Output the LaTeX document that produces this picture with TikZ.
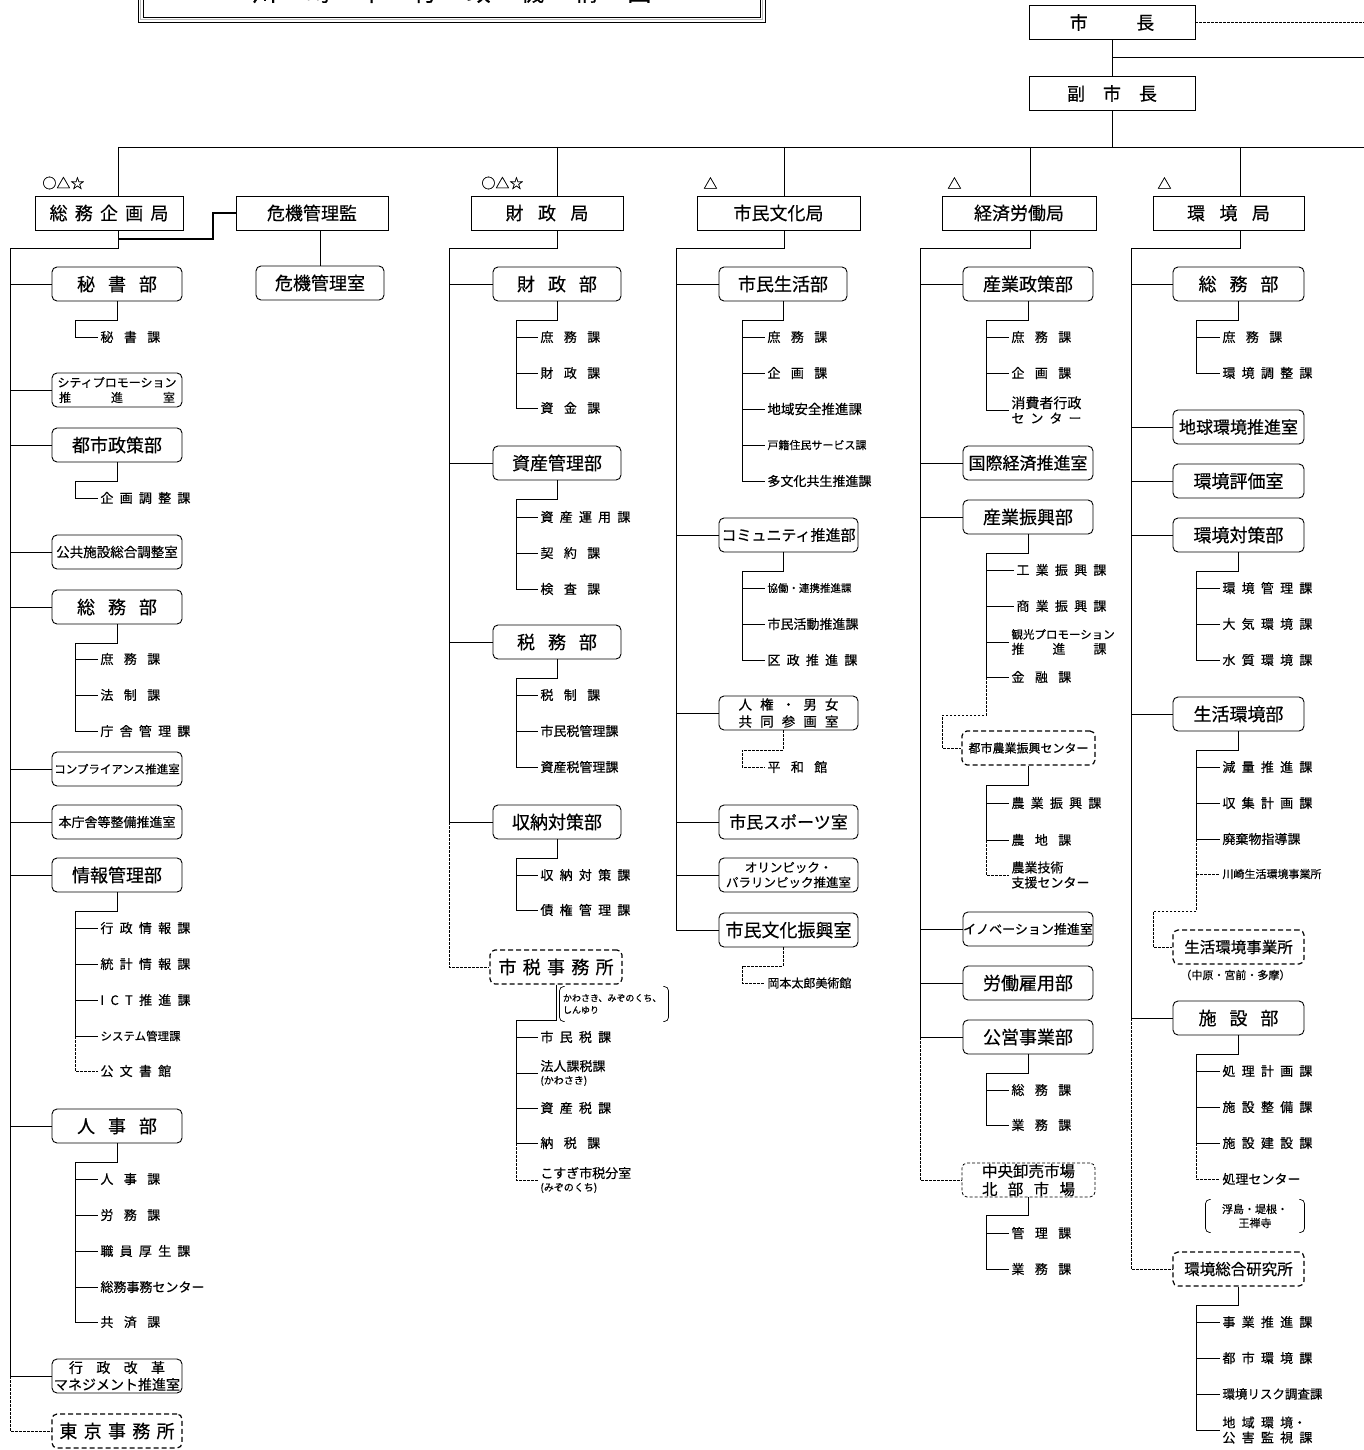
\documentclass[tikz,border=0pt]{standalone}
\usepackage{fontspec}
\setmainfont{Noto Sans CJK JP}[FakeBold=0.4]
\usetikzlibrary{positioning,calc}
\newcommand{\fsz}[2]{\fontsize{#1}{#2}\selectfont}
\newcommand{\wsp}{\spaceskip=.8em\relax}

\begin{document}
\begin{tikzpicture}[
  x=1pt, y=-1pt, line width=.9pt,
  kyoku/.style={draw, minimum height=34pt, inner sep=0pt, font={\fsz{18}{20}\spaceskip=.4em\relax}},
  bu/.style={draw, rounded corners=5pt, minimum width=130pt, minimum height=34pt, inner sep=0pt, align=center, font={\fsz{18}{20}\spaceskip=.72em\relax}},
  dbu/.style={bu, dash pattern=on 5pt off 3pt, line width=1.2pt},
  ka/.style={anchor=west, inner sep=0pt, align=left, font={\fsz{13}{15}\spaceskip=.48em\relax}},
  kigo/.style={anchor=west, inner sep=0pt, font=\fsz{14}{14}},
  memo/.style={inner xsep=3pt, inner ysep=0pt, minimum height=34pt, align=left, font=\fsz{9}{12}},
  con/.style={shorten >=2pt},
  dl/.style={dash pattern=on 2.5pt off 1.5pt, line width=.8pt},
  heavy/.style={line width=2.2pt},
  brk/.style={rounded corners=4pt, line width=.7pt}
]
\useasboundingbox (0,0) rectangle (1364,1450);

% title frame (cut at the top)
\draw (138,-5) -- (138,22) -- (765,22) -- (765,-5);
\draw[gray!55, line width=1.6pt] (140.5,-5) -- (140.5,19.5) -- (762.5,19.5) -- (762.5,-5);
\draw[line width=.7pt] (143,-5) -- (143,17) -- (760,17) -- (760,-5);
\node[anchor=base, inner sep=0pt, font={\fsz{24}{24}\spaceskip=1.23em\relax}] (ttl) at (452,1) {川 崎 市 行 政 機 構 図};

% mayor and bus
\node[kyoku, minimum width=166pt] (shicho) at (1112,22.5) {市\hspace{2.7em}長};
\node[kyoku, minimum width=166pt] (fuku) at (1112,93.5) {\spaceskip=1em 副 市 長};
\coordinate (rA) at (1364,22.5);
\coordinate (rB) at (1364,57);
\coordinate (busL) at (118,147);
\coordinate (busR) at (1364,147);
\draw[dl] (shicho.east) -- (rA);
\draw (shicho) -- (fuku);
\draw (rB -| shicho.south) -- (rB);
\draw (fuku.south) -- (fuku.south |- busR);
\draw (busL) -- (busR);

% bureaus
\node[kyoku, minimum width=148pt] (somu) at (109,213) {総 務 企 画 局};
\node[kyoku, minimum width=152pt] (kiki) at (312,213) {危機管理監};
\node[kyoku, minimum width=152pt] (zaisei) at (547,213) {\wsp 財 政 局};
\node[kyoku, minimum width=163pt] (shimin) at (778.5,213) {市民文化局};
\node[kyoku, minimum width=154pt] (keizai) at (1019,213) {経済労働局};
\node[kyoku, minimum width=151pt] (kankyo) at (1228.5,213) {\wsp 環 境 局};
\node[kigo] (k1) at (42,183) {○△☆};
\node[kigo] (k2) at (481,183) {○△☆};
\node[kigo] (k3) at (703,183) {△};
\node[kigo] (k4) at (947,183) {△};
\node[kigo] (k5) at (1157,183) {△};

\coordinate (s1) at (10,248);
\coordinate (s2) at (449,248);
\coordinate (s3) at (676,248);
\coordinate (s4) at (920,248);
\coordinate (s5) at (1131,248);
\foreach \b/\x/\s in {somu/118/s1, zaisei/557/s2, shimin/784/s3, keizai/1030/s4, kankyo/1240/s5}{
  \coordinate (p) at (\x,147);
  \draw (p) -- (p |- \b.north);
  \draw (p |- \b.south) |- (\s);
}

\node[bu, minimum width=128pt] (kikishitsu) at (320,283) {危機管理室};
\draw (kiki.south -| kikishitsu.north) -- (kikishitsu.north);
\coordinate (hv) at (213,239);
\draw[heavy] (hv -| busL) -- (hv) |- (kiki.west);

% ---- 総務企画局
\node[bu] (a1) at (117,284) {秘 書 部};
\node[bu, font=\fsz{12}{15}] (a2) at (117,390) {シティプロモーション\\\makebox[116pt][s]{推\hfill 進\hfill 室}};
\node[bu] (a3) at (117,445) {都市政策部};
\node[bu, font=\fsz{13.5}{15}] (a4) at (117,552) {公共施設総合調整室};
\node[bu] (a5) at (117,607) {総 務 部};
\node[bu, font=\fsz{11.5}{14}] (a6) at (117,769) {コンプライアンス推進室};
\node[bu, font=\fsz{13}{15}] (a7) at (117,822) {本庁舎等整備推進室};
\node[bu] (a8) at (117,875) {情報管理部};
\node[bu] (a9) at (117,1126) {人 事 部};
\node[bu, font=\fsz{14}{17}] (a10) at (117,1376) {\makebox[96pt][s]{行\hfill 政\hfill 改\hfill 革}\\マネジメント推進室};
\node[dbu, font={\fsz{18}{20}\spaceskip=.35em\relax}] (a11) at (117,1431) {東 京 事 務 所};
\draw (s1) -- (s1 |- a10.west);
\foreach \n in {a1,a2,a3,a4,a5,a6,a7,a8,a9,a10} \draw (s1 |- \n.west) -- (\n.west);
\draw[dl] (s1 |- a10.west) |- (a11.west);

\coordinate (a1s) at (75,320);
\node[ka] (a1-1) at (100,337) {\wsp 秘 書 課};
\draw[con] (a1.south) |- (a1s) |- (a1-1.west);

\coordinate (a3s) at (75,481);
\node[ka] (a3-1) at (100,498) {企 画 調 整 課};
\draw[con] (a3.south) |- (a3s) |- (a3-1.west);

\coordinate (a5s) at (75,643);
\foreach \i/\y/\tx in {1/659/\wsp 庶 務 課, 2/695/\wsp 法 制 課, 3/731/庁 舎 管 理 課}
  \node[ka] (a5-\i) at (100,\y) {\tx};
\draw (a5.south) |- (a5s) -- (a5s |- a5-3.west);
\foreach \i in {1,2,3} \draw[con] (a5s |- a5-\i.west) -- (a5-\i.west);

\coordinate (a8s) at (75,911);
\foreach \i/\y/\tx in {1/928/行 政 情 報 課, 2/964/統 計 情 報 課, 3/1000/I C T 推 進 課, 4/1036/\fsz{11.5}{14}システム管理課, 5/1071/公 文 書 館}
  \node[ka] (a8-\i) at (100,\y) {\tx};
\draw (a8.south) |- (a8s) -- (a8s |- a8-4.west);
\foreach \i in {1,2,3,4} \draw[con] (a8s |- a8-\i.west) -- (a8-\i.west);
\draw[dl, con] (a8s |- a8-4.west) |- (a8-5.west);

\coordinate (a9s) at (75,1162);
\foreach \i/\y/\tx in {1/1179/\wsp 人 事 課, 2/1215/\wsp 労 務 課, 3/1251/職 員 厚 生 課, 4/1287/総務事務センター, 5/1322/\wsp 共 済 課}
  \node[ka] (a9-\i) at (100,\y) {\tx};
\draw (a9.south) |- (a9s) -- (a9s |- a9-5.west);
\foreach \i in {1,...,5} \draw[con] (a9s |- a9-\i.west) -- (a9-\i.west);

% ---- 財政局
\node[bu, minimum width=128pt] (b1) at (557,284) {財 政 部};
\node[bu, minimum width=128pt] (b2) at (557,463) {資産管理部};
\node[bu, minimum width=128pt] (b3) at (557,642) {税 務 部};
\node[bu, minimum width=128pt] (b4) at (557,822) {収納対策部};
\node[dbu, minimum width=132pt, font={\fsz{18}{20}\spaceskip=.35em\relax}] (b5) at (556,967) {市 税 事 務 所};
\draw (s2) -- (s2 |- b4.west);
\foreach \n in {b1,b2,b3,b4} \draw (s2 |- \n.west) -- (\n.west);
\draw[dl] (s2 |- b4.west) |- (b5.west);

\coordinate (b1s) at (516,320);
\foreach \i/\y/\tx in {1/337/\wsp 庶 務 課, 2/373/\wsp 財 政 課, 3/408/\wsp 資 金 課}
  \node[ka] (b1-\i) at (540,\y) {\tx};
\draw (b1.south) |- (b1s) -- (b1s |- b1-3.west);
\foreach \i in {1,2,3} \draw[con] (b1s |- b1-\i.west) -- (b1-\i.west);

\coordinate (b2s) at (516,499);
\foreach \i/\y/\tx in {1/517/資 産 運 用 課, 2/553/\wsp 契 約 課, 3/589/\wsp 検 査 課}
  \node[ka] (b2-\i) at (540,\y) {\tx};
\draw (b2.south) |- (b2s) -- (b2s |- b2-3.west);
\foreach \i in {1,2,3} \draw[con] (b2s |- b2-\i.west) -- (b2-\i.west);

\coordinate (b3s) at (516,678);
\foreach \i/\y/\tx in {1/695/\wsp 税 制 課, 2/731/市民税管理課, 3/767/資産税管理課}
  \node[ka] (b3-\i) at (540,\y) {\tx};
\draw (b3.south) |- (b3s) -- (b3s |- b3-3.west);
\foreach \i in {1,2,3} \draw[con] (b3s |- b3-\i.west) -- (b3-\i.west);

\coordinate (b4s) at (516,858);
\foreach \i/\y/\tx in {1/875/収 納 対 策 課, 2/910/債 権 管 理 課}
  \node[ka] (b4-\i) at (540,\y) {\tx};
\draw (b4.south) |- (b4s) -- (b4s |- b4-2.west);
\foreach \i in {1,2} \draw[con] (b4s |- b4-\i.west) -- (b4-\i.west);

\node[memo, text width=102pt] (b5n) at (614,1004) {かわさき、みぞのくち、\\しんゆり};
\draw[brk] ([xshift=5pt]b5n.north west) -- (b5n.north west) -- (b5n.south west) -- ([xshift=5pt]b5n.south west);
\draw[brk] ([xshift=-5pt]b5n.north east) -- (b5n.north east) -- (b5n.south east) -- ([xshift=-5pt]b5n.south east);
\coordinate (b5s) at (516,1020);
\foreach \i/\y/\tx in {1/1037/市 民 税 課, 2/1073/法人課税課\\[-2pt]{\fsz{10}{12}(かわさき)}, 3/1108/資 産 税 課, 4/1143/\wsp 納 税 課, 5/1180/こすぎ市税分室\\[-2pt]{\fsz{10}{12}(みぞのくち)}}
  \node[ka] (b5-\i) at (540,\y) {\tx};
\draw (b5.south) |- (b5s) -- (b5s |- b5-4.west);
\foreach \i in {1,...,4} \draw[con] (b5s |- b5-\i.west) -- (b5-\i.west);
\draw[dl, con] (b5s |- b5-4.west) |- (b5-5.west);

% ---- 市民文化局
\node[bu, minimum width=128pt] (c1) at (783,284) {市民生活部};
\node[bu, minimum width=139pt, font=\fsz{15}{17}] (c2) at (788.5,535) {コミュニティ推進部};
\node[bu, minimum width=139pt, font={\fsz{13.5}{17}\spaceskip=.6em\relax}] (c3) at (788.5,713) {人 権 ・ 男 女\\共 同 参 画 室};
\node[bu, minimum width=139pt, font=\fsz{17}{20}] (c4) at (788.5,822) {市民スポーツ室};
\node[bu, minimum width=139pt, font=\fsz{12.5}{15}] (c5) at (788.5,875) {オリンピック・\\パラリンピック推進室};
\node[bu, minimum width=139pt] (c6) at (788.5,930) {市民文化振興室};
\draw (s3) -- (s3 |- c6.west);
\foreach \n in {c1,c2,c3,c4,c5,c6} \draw (s3 |- \n.west) -- (\n.west);

\coordinate (c1s) at (742,320);
\foreach \i/\y/\tx in {1/337/\wsp 庶 務 課, 2/373/\wsp 企 画 課, 3/409/\fsz{13.5}{15}地域安全推進課, 4/445/\fsz{11}{13}戸籍住民サービス課, 5/481/多文化共生推進課}
  \node[ka] (c1-\i) at (767,\y) {\tx};
\draw (c1.south) |- (c1s) -- (c1s |- c1-5.west);
\foreach \i in {1,...,5} \draw[con] (c1s |- c1-\i.west) -- (c1-\i.west);

\coordinate (c2s) at (742,571);
\foreach \i/\y/\tx in {1/588/\fsz{10.5}{12}協働・連携推進課, 2/624/市民活動推進課, 3/660/区 政 推 進 課}
  \node[ka] (c2-\i) at (767,\y) {\tx};
\draw (c2.south -| c1.south) |- (c2s) -- (c2s |- c2-3.west);
\foreach \i in {1,2,3} \draw[con] (c2s |- c2-\i.west) -- (c2-\i.west);

\coordinate (c3s) at (742,750);
\node[ka] (c3-1) at (767,767) {\wsp 平 和 館};
\draw[dl, con] (c3.south -| c1.south) |- (c3s) |- (c3-1.west);

\coordinate (c6s) at (742,966);
\node[ka, font=\fsz{12}{14}] (c6-1) at (767,983) {岡本太郎美術館};
\draw[dl, con] (c6.south -| c1.south) |- (c6s) |- (c6-1.west);

% ---- 経済労働局
\node[bu] (d1) at (1028,284) {産業政策部};
\node[bu, font=\fsz{17}{20}] (d2) at (1028,463) {国際経済推進室};
\node[bu] (d3) at (1028,517) {産業振興部};
\node[dbu, minimum width=133pt, font=\fsz{12}{14}] (d4) at (1028.5,748) {都市農業振興センター};
\node[bu, font=\fsz{13}{15}] (d5) at (1028,929) {イノベーション推進室};
\node[bu] (d6) at (1028,983) {労働雇用部};
\node[bu] (d7) at (1028,1037) {公営事業部};
\node[dbu, minimum width=133pt, dash pattern=on 3pt off 2pt, line width=.8pt, font=\fsz{15.5}{18}] (d8) at (1028.5,1180) {中央卸売市場\\\makebox[93pt][s]{北\hfill 部\hfill 市\hfill 場}};
\draw (s4) -- (s4 |- d7.west);
\foreach \n in {d1,d2,d3,d5,d6,d7} \draw (s4 |- \n.west) -- (\n.west);
\draw[dl] (s4 |- d7.west) |- (d8.west);

\coordinate (d1s) at (986,320);
\foreach \i/\y/\tx in {1/337/\wsp 庶 務 課, 2/373/\wsp 企 画 課, 3/410/\fsz{14}{17}消費者行政\\\makebox[70pt][s]{セ\hfill ン\hfill タ\hfill ー}}
  \node[ka] (d1-\i) at (1011,\y) {\tx};
\draw (d1.south) |- (d1s) -- (d1s |- d1-3.west);
\foreach \i in {1,2,3} \draw[con] (d1s |- d1-\i.west) -- (d1-\i.west);

\coordinate (d3s) at (986,553);
\foreach \i/\x/\y/\tx in {1/1016/570/工 業 振 興 課, 2/1016/606/商 業 振 興 課, 3/1011/642/\fsz{11.5}{17}観光プロモーション\\\makebox[95pt][s]{推\hfill 進\hfill 課}, 4/1011/677/\wsp 金 融 課}
  \node[ka] (d3-\i) at (\x,\y) {\tx};
\draw (d3.south) |- (d3s) -- (d3s |- d3-4.west);
\foreach \i in {1,...,4} \draw[con] (d3s |- d3-\i.west) -- (d3-\i.west);
\coordinate (d3t) at (942,715);
\draw[dl] (d3s |- d3-4.west) |- (d3t) |- (d4.west);

\coordinate (d4s) at (986,785);
\foreach \i/\y/\tx in {1/803/農 業 振 興 課, 2/840/\wsp 農 地 課, 3/875/農業技術\\支援センター}
  \node[ka] (d4-\i) at (1011,\y) {\tx};
\draw (d4.south) |- (d4s) -- (d4s |- d4-2.west);
\foreach \i in {1,2} \draw[con] (d4s |- d4-\i.west) -- (d4-\i.west);
\draw[dl, con] (d4s |- d4-2.west) |- (d4-3.west);

\coordinate (d7s) at (986,1073);
\foreach \i/\y/\tx in {1/1090/\wsp 総 務 課, 2/1125/\wsp 業 務 課}
  \node[ka] (d7-\i) at (1011,\y) {\tx};
\draw (d7.south) |- (d7s) -- (d7s |- d7-2.west);
\foreach \i in {1,2} \draw[con] (d7s |- d7-\i.west) -- (d7-\i.west);

\coordinate (d8s) at (986,1215);
\foreach \i/\y/\tx in {1/1233/\wsp 管 理 課, 2/1269/\wsp 業 務 課}
  \node[ka] (d8-\i) at (1011,\y) {\tx};
\draw (d8.south) |- (d8s) -- (d8s |- d8-2.west);
\foreach \i in {1,2} \draw[con] (d8s |- d8-\i.west) -- (d8-\i.west);

% ---- 環境局
\node[bu, minimum width=131pt] (e1) at (1238.5,284) {総 務 部};
\node[bu, minimum width=131pt, font=\fsz{17}{20}] (e2) at (1238.5,427) {地球環境推進室};
\node[bu, minimum width=131pt] (e3) at (1238.5,481) {環境評価室};
\node[bu, minimum width=131pt] (e4) at (1238.5,535) {環境対策部};
\node[bu, minimum width=131pt] (e5) at (1238.5,714) {生活環境部};
\node[dbu, minimum width=131pt, font=\fsz{15.5}{18}] (e6) at (1238.5,947) {生活環境事業所};
\node[ka, font=\fsz{11}{13}] (e6n) at (1180,975) {（中原・宮前・多摩）};
\node[bu, minimum width=131pt] (e7) at (1238.5,1018) {施 設 部};
\node[dbu, minimum width=131pt, font=\fsz{15.5}{18}] (e8) at (1238.5,1269) {環境総合研究所};
\draw (s5) -- (s5 |- e7.west);
\foreach \n in {e1,e2,e3,e4,e5,e7} \draw (s5 |- \n.west) -- (\n.west);
\draw[dl] (s5 |- e7.west) |- (e8.west);

\coordinate (e1s) at (1196,320);
\foreach \i/\y/\tx in {1/337/\wsp 庶 務 課, 2/373/環 境 調 整 課}
  \node[ka] (e1-\i) at (1222,\y) {\tx};
\draw (e1.south) |- (e1s) -- (e1s |- e1-2.west);
\foreach \i in {1,2} \draw[con] (e1s |- e1-\i.west) -- (e1-\i.west);

\coordinate (e4s) at (1196,571);
\foreach \i/\y/\tx in {1/588/環 境 管 理 課, 2/624/大 気 環 境 課, 3/660/水 質 環 境 課}
  \node[ka] (e4-\i) at (1222,\y) {\tx};
\draw (e4.south) |- (e4s) -- (e4s |- e4-3.west);
\foreach \i in {1,2,3} \draw[con] (e4s |- e4-\i.west) -- (e4-\i.west);

\coordinate (e5s) at (1196,750);
\foreach \i/\y/\tx in {1/767/減 量 推 進 課, 2/803/収 集 計 画 課, 3/839/廃棄物指導課, 4/874/\fsz{11}{13}川崎生活環境事業所}
  \node[ka] (e5-\i) at (1222,\y) {\tx};
\draw (e5.south) |- (e5s) -- (e5s |- e5-3.west);
\foreach \i in {1,2,3} \draw[con] (e5s |- e5-\i.west) -- (e5-\i.west);
\draw[dl, con] (e5s |- e5-4.west) -- (e5-4.west);
\coordinate (e5t) at (1153,911);
\draw[dl] (e5s |- e5-3.west) |- (e5t) |- (e6.west);

\coordinate (e7s) at (1196,1054);
\foreach \i/\y/\tx in {1/1071/処 理 計 画 課, 2/1107/施 設 整 備 課, 3/1143/施 設 建 設 課, 4/1179/処理センター}
  \node[ka] (e7-\i) at (1222,\y) {\tx};
\draw (e7.south) |- (e7s) -- (e7s |- e7-3.west);
\foreach \i in {1,2,3} \draw[con] (e7s |- e7-\i.west) -- (e7-\i.west);
\draw[dl, con] (e7s |- e7-3.west) |- (e7-4.west);
\node[memo, text width=92pt, minimum height=32pt, align=center, font=\fsz{11}{14}] (e7n) at (1255,1216) {浮島・堤根・\\王禅寺};
\draw[brk] ([xshift=5pt]e7n.north west) -- (e7n.north west) -- (e7n.south west) -- ([xshift=5pt]e7n.south west);
\draw[brk] ([xshift=-5pt]e7n.north east) -- (e7n.north east) -- (e7n.south east) -- ([xshift=-5pt]e7n.south east);

\coordinate (e8s) at (1196,1305);
\foreach \i/\y/\tx in {1/1322/事 業 推 進 課, 2/1358/都 市 環 境 課, 3/1394/\fsz{12.5}{14}環境リスク調査課, 4/1430/地 域 環 境・\\公 害 監 視 課}
  \node[ka] (e8-\i) at (1222,\y) {\tx};
\draw (e8.south) |- (e8s) -- (e8s |- e8-4.west);
\foreach \i in {1,...,4} \draw[con] (e8s |- e8-\i.west) -- (e8-\i.west);
\end{tikzpicture}
\end{document}
